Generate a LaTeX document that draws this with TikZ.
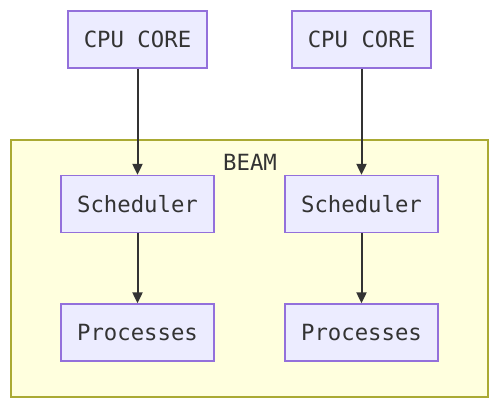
\documentclass[tikz,border=0pt]{standalone}
\usepackage{fontspec}
\setmonofont{DejaVu Sans Mono}
\usetikzlibrary{arrows.meta}
\definecolor{nodefill}{HTML}{ECECFF}
\definecolor{nodedraw}{HTML}{9370DB}
\definecolor{clusfill}{HTML}{FFFFDE}
\definecolor{clusdraw}{HTML}{AAAA33}
\definecolor{txt}{HTML}{333333}
\tikzset{
  lbl/.style={text=txt, font=\ttfamily\fontsize{22.3}{26}\selectfont},
  box/.style={lbl, draw=nodedraw, fill=nodefill, line width=1.3pt, minimum width=153pt, minimum height=57pt, inner sep=0pt},
  cpubox/.style={box, minimum width=139pt},
  conn/.style={draw=txt, line width=2pt, -{Triangle[length=11pt,width=10pt]}},
}
\begin{document}
\begin{tikzpicture}[x=1pt,y=-1pt]
\useasboundingbox (0,0) rectangle (500,409);
\fill[white] (0,0) rectangle (500,409);
\draw[draw=clusdraw, fill=clusfill, line width=1.3pt] (11,140) rectangle (488,397);
\node[lbl] (beam) at (250,162) {BEAM};
\node[cpubox] (c1) at (137.5,39.5) {CPU CORE};
\node[cpubox] (c2) at (361.5,39.5) {CPU CORE};
\node[box] (s1) at (137.5,204) {Scheduler};
\node[box] (s2) at (361.5,204) {Scheduler};
\node[box] (p1) at (137.5,332.5) {Processes};
\node[box] (p2) at (361.5,332.5) {Processes};
\draw[conn] (c1) -- (s1);
\draw[conn] (c2) -- (s2);
\draw[conn] (s1) -- (p1);
\draw[conn] (s2) -- (p2);
\end{tikzpicture}
\end{document}
